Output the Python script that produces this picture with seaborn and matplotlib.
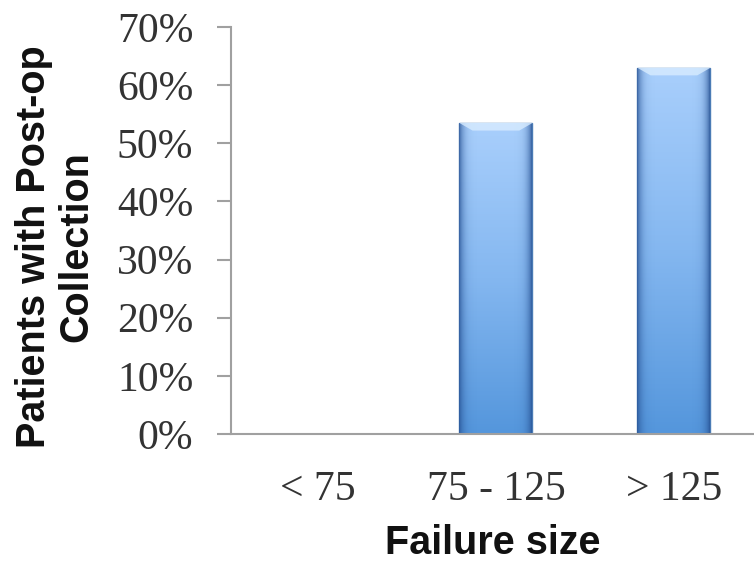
import numpy as np
import pandas as pd
import matplotlib
matplotlib.use("Agg")
import matplotlib.pyplot as plt
import matplotlib.transforms as mtransforms
import seaborn as sns
from matplotlib.colors import LinearSegmentedColormap

categories = ["< 75", "75 - 125", "> 125"]
pct_post_op = [0.0, 53.5, 63.0]
y_ticks = [0, 10, 20, 30, 40, 50, 60, 70]

df = pd.DataFrame({"size": categories, "pct": pct_post_op})

sns.set_style("white")
fig = plt.figure(figsize=(7.54, 5.65), dpi=100)
ax = fig.add_axes([0.306, 0.232, 0.694, 0.72])

sns.barplot(data=df, x="size", y="pct", color="#7fb2ee", width=0.41,
            edgecolor="#4a7bb5", linewidth=1.0, ax=ax)

# gradient fill like the office chart
cmap = LinearSegmentedColormap.from_list("bar", ["#5496dc", "#84b7f0", "#a9cffc"])
grad = np.linspace(0, 1, 256).reshape(-1, 1)
for p in ax.patches:
    h = p.get_height()
    if h <= 0:
        continue
    x0 = p.get_x()
    w = p.get_width()
    im = ax.imshow(grad, cmap=cmap, aspect="auto", origin="lower",
                   extent=[x0, x0 + w, 0, h], zorder=p.get_zorder() + 0.1)
    im.set_clip_path(p)
    # darker side shading
    hgrad = np.abs(np.linspace(-1, 1, 64)).reshape(1, -1) ** 8
    shade = np.zeros((1, 64, 4))
    shade[..., 0] = 0.15
    shade[..., 1] = 0.32
    shade[..., 2] = 0.58
    shade[..., 3] = hgrad * 0.8
    im2 = ax.imshow(shade, aspect="auto", extent=[x0, x0 + w, 0, h],
                    zorder=p.get_zorder() + 0.2)
    im2.set_clip_path(p)
    # bevel highlight at the top
    ax.fill([x0, x0 + w, x0 + w * 0.82, x0 + w * 0.18],
            [h, h, h - 1.3, h - 1.3], color="#d8ecff", alpha=0.8,
            lw=0, zorder=p.get_zorder() + 0.3)

ax.set_xlim(-0.49, 2.45)
ax.set_ylim(0, 70)
ax.set_yticks(y_ticks)
ax.set_yticklabels([f"{t}%" for t in y_ticks], fontsize=30,
                   family=["Liberation Serif", "DejaVu Serif"])
ax.set_xticks(range(len(categories)))
ax.set_xticklabels(categories, fontsize=30,
                   family=["Liberation Serif", "DejaVu Serif"])

# excel puts the tick labels a touch below the tick marks
offset = mtransforms.ScaledTranslation(0, -5 / 100, fig.dpi_scale_trans)
for lab in ax.get_yticklabels():
    lab.set_transform(lab.get_transform() + offset)

ax.set_xlabel("Failure size", fontsize=28.5, fontweight="bold",
              family=["Liberation Sans", "DejaVu Sans"], labelpad=11,
              color="#111111")
ax.set_ylabel("Patients with Post-op\nCollection", fontsize=28.5,
              fontweight="bold", family=["Liberation Sans", "DejaVu Sans"],
              linespacing=1.15, color="#111111")
ax.yaxis.set_label_coords(-0.258, 0.46)

for s in ["top", "right"]:
    ax.spines[s].set_visible(False)
for s in ["left", "bottom"]:
    ax.spines[s].set_color("#a0a0a0")
    ax.spines[s].set_linewidth(1.5)

ax.tick_params(axis="y", length=10, width=1.5, color="#a0a0a0",
               direction="out", left=True, pad=17, labelcolor="#333333")
ax.tick_params(axis="x", length=0, pad=26, labelcolor="#333333")

fig.savefig("out.png", dpi=100)
